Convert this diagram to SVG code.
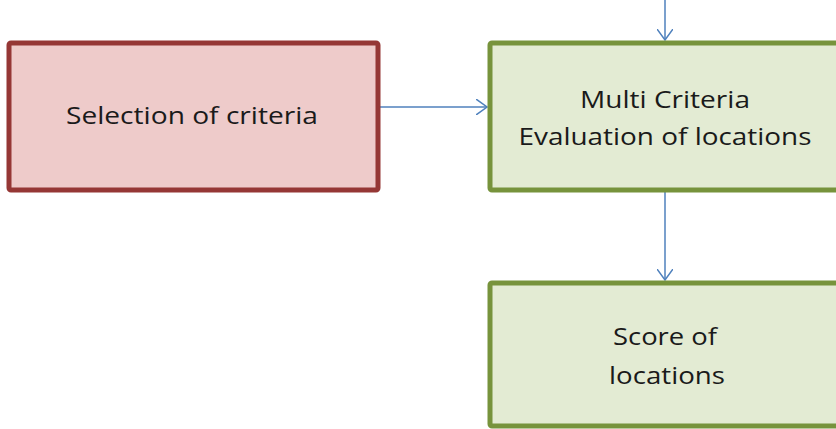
<svg xmlns="http://www.w3.org/2000/svg" width="836" height="429" viewBox="0 0 836 429">
<style>
.red{fill:#eecbca;stroke:#953735;stroke-width:5}
.green{fill:#e3ebd3;stroke:#77933c;stroke-width:5}
.t{font-family:"Open Sans","Liberation Sans",sans-serif;font-size:24px;fill:#1a1a1a;text-anchor:middle}
.c{stroke:#4f81bd;stroke-width:1.5;fill:none}
</style>
<defs>
<marker id="a" viewBox="0 0 12 16" refX="11" refY="8" markerWidth="12" markerHeight="16" markerUnits="userSpaceOnUse" orient="auto">
<path d="M0,0 L11,8 L0,16" fill="none" stroke="#4f81bd" stroke-width="1.5"/>
</marker>
</defs>
<g id="connectors">
<line class="c" x1="665" y1="0" x2="665" y2="40" marker-end="url(#a)"/>
<line class="c" x1="380" y1="107" x2="487" y2="107" marker-end="url(#a)"/>
<line class="c" x1="665" y1="192" x2="665" y2="280" marker-end="url(#a)"/>
</g>
<g id="selection">
<rect class="red" x="9" y="43" width="369" height="147" rx="2"/>
<text class="t" x="192" y="124" textLength="252" lengthAdjust="spacingAndGlyphs">Selection of criteria</text>
</g>
<g id="mce">
<rect class="green" x="490" y="43" width="352" height="147" rx="2"/>
<text class="t" x="665" y="108" textLength="170" lengthAdjust="spacingAndGlyphs">Multi Criteria</text>
<text class="t" x="665" y="145" textLength="293" lengthAdjust="spacingAndGlyphs">Evaluation of locations</text>
</g>
<g id="score">
<rect class="green" x="490" y="283" width="352" height="143" rx="2"/>
<text class="t" x="665" y="345" textLength="104" lengthAdjust="spacingAndGlyphs">Score of</text>
<text class="t" x="667" y="384" textLength="116" lengthAdjust="spacingAndGlyphs">locations</text>
</g>
</svg>
